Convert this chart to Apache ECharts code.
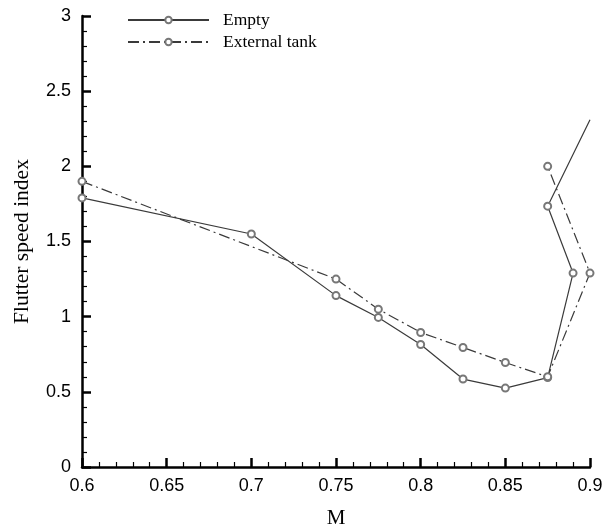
<!DOCTYPE html>
<html>
<head>
<meta charset="utf-8">
<script src="https://cdn.jsdelivr.net/npm/echarts@6/dist/echarts.min.js"></script>
<style>
  html, body { margin: 0; padding: 0; background: #fff; }
  #chart { width: 603px; height: 527px; }
</style>
</head>
<body>
<div id="chart"></div>
<script>
// Mach numbers and flutter speed index for each configuration
const emptyM = [0.6, 0.7, 0.75, 0.775, 0.8, 0.825, 0.85, 0.875, 0.89, 0.875, 0.9];
const emptyV = [1.79, 1.55, 1.14, 0.995, 0.815, 0.585, 0.525, 0.595, 1.29, 1.735, 2.31];
const tankM = [0.6, 0.75, 0.775, 0.8, 0.825, 0.85, 0.875, 0.9, 0.875];
const tankV = [1.9, 1.25, 1.05, 0.895, 0.795, 0.695, 0.6, 1.29, 2.0];
// the last Empty point is the curve leaving the frame, drawn without a marker
const emptyOpenEnd = [false, false, false, false, false, false, false, false, false, false, true];

const xTicks = { min: 0.6, max: 0.9, step: 0.05 };
const yTicks = { min: 0, max: 3, step: 0.5 };

const lineColor = '#3a3a3a';
const serif = 'Liberation Serif, Times New Roman, serif';
const sans = 'Liberation Sans, Arial, sans-serif';

function pairs(xs, ys, openEnd) {
  return xs.map((x, i) => {
    const item = { value: [x, ys[i]] };
    if (openEnd && openEnd[i]) item.symbol = 'none';
    return item;
  });
}

const axisCommon = {
  axisLine: { show: true, onZero: false, lineStyle: { color: '#000', width: 2.5 } },
  axisTick: { show: true, inside: true, length: 9, lineStyle: { color: '#000', width: 2.5 } },
  minorTick: { show: true, splitNumber: 5, length: 5, lineStyle: { color: '#000', width: 1.2 } },
  splitLine: { show: false },
  axisLabel: { color: '#000', fontFamily: sans, fontSize: 18 }
};

const chart = echarts.init(document.getElementById('chart'), null, { renderer: 'canvas' });
chart.setOption({
  animation: false,
  backgroundColor: '#fff',
  grid: { left: 82, right: 13, top: 16, bottom: 60, containLabel: false, outerBoundsMode: 'none' },
  legend: {
    left: 122,
    top: 6,
    orient: 'vertical',
    itemWidth: 81,
    itemHeight: 8,
    itemGap: 4,
    textStyle: { fontFamily: serif, fontSize: 17.5, color: '#000', padding: [0, 0, 0, 9] },
    data: ['Empty', 'External tank']
  },
  xAxis: Object.assign({}, axisCommon, {
    type: 'value',
    min: xTicks.min, max: xTicks.max, interval: xTicks.step,
    name: 'M',
    nameLocation: 'middle',
    nameGap: 41,
    nameTextStyle: { fontFamily: serif, fontSize: 21, color: '#000' },
    axisLabel: Object.assign({}, axisCommon.axisLabel, { margin: 10 })
  }),
  yAxis: Object.assign({}, axisCommon, {
    type: 'value',
    min: yTicks.min, max: yTicks.max, interval: yTicks.step,
    name: 'Flutter speed index',
    nameLocation: 'middle',
    nameGap: 49,
    nameRotate: 90,
    nameTextStyle: { fontFamily: serif, fontSize: 21.5, color: '#000' },
    axisLabel: Object.assign({}, axisCommon.axisLabel, { margin: 11 })
  }),
  series: [
    {
      name: 'Empty',
      type: 'line',
      data: pairs(emptyM, emptyV, emptyOpenEnd),
      symbol: 'emptyCircle',
      symbolSize: 7,
      showAllSymbol: true,
      lineStyle: { color: lineColor, width: 1.2, type: 'solid' },
      itemStyle: { color: '#777', borderColor: '#666', borderWidth: 1.2 },
      clip: false
    },
    {
      name: 'External tank',
      type: 'line',
      data: pairs(tankM, tankV),
      symbol: 'emptyCircle',
      symbolSize: 7,
      showAllSymbol: true,
      lineStyle: { color: lineColor, width: 1.2, type: [11, 4, 2, 4] },
      itemStyle: { color: '#777', borderColor: '#666', borderWidth: 1.2 },
      clip: false
    }
  ]
});
</script>
</body>
</html>
